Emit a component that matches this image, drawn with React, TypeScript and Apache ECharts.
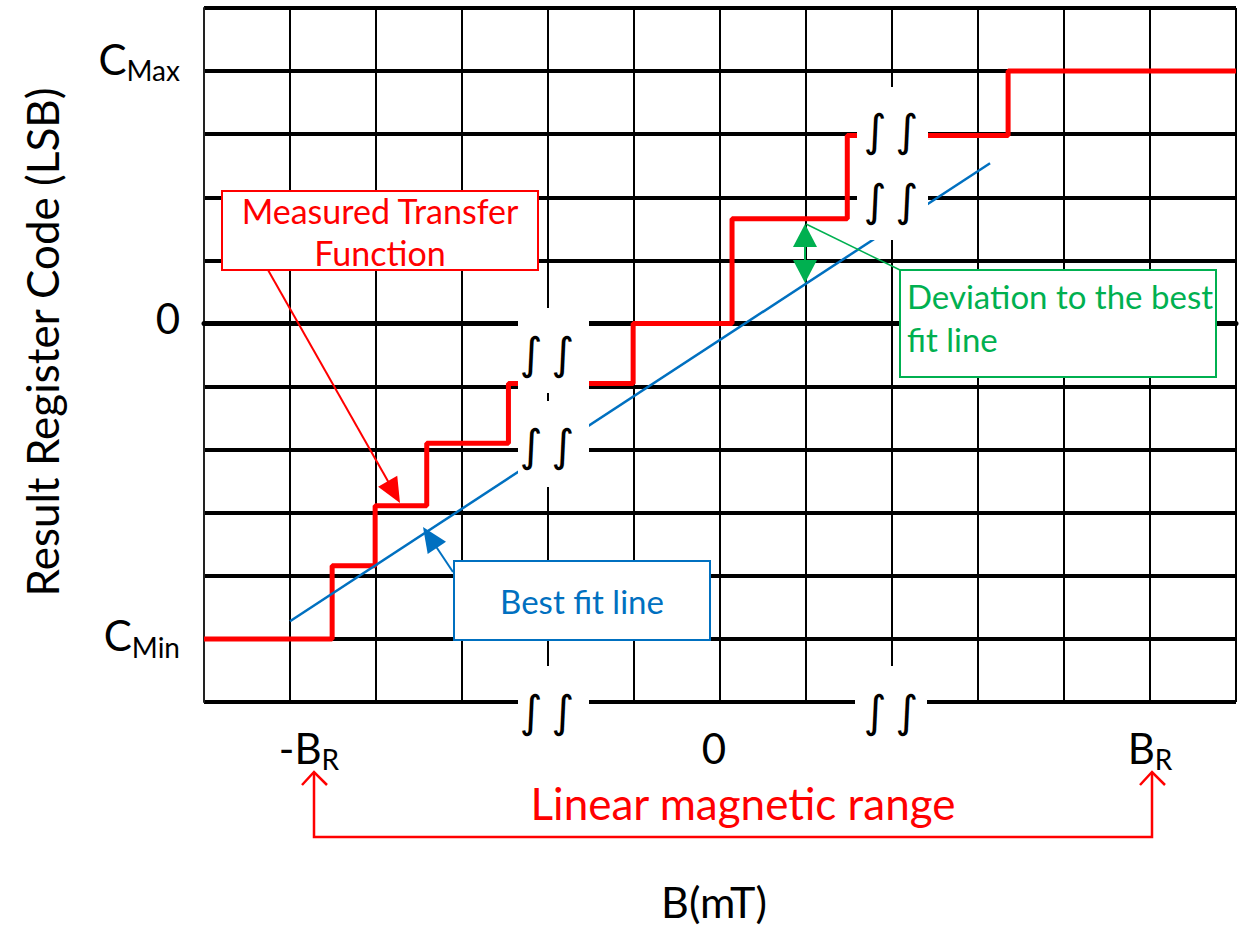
import React, { useEffect, useRef } from 'react';
import * as echarts from 'echarts';

// ---- data ----
const stepBreaksX = [0, 1.49, 1.99, 2.59, 3.54, 4.99, 6.14, 7.48, 9.35, 12];
const stepLevels = [-5, -3.84, -2.89, -1.9, -0.95, 0, 1.66, 2.98, 4.0];
const bestFitX = [1.0, 9.14];
const bestFitY = [-4.72, 2.54];
const xTickValues = [1, 6, 11];
const xTickMain = ['-B', '0', 'B'];
const xTickSub = ['R', '', 'R'];
const yTickValues = [-5, 0, 4];
const yTickMain = ['C', '0', 'C'];
const yTickSub = ['Min', '', 'Max'];

const FONT = 'Lato';
const RED = '#FF0000';
const BLUE = '#0070C0';
const GREEN = '#00B050';

function arrowHead(tip: number[], from: number[], len: number, half: number) {
  const dx = tip[0] - from[0];
  const dy = tip[1] - from[1];
  const L = Math.sqrt(dx * dx + dy * dy);
  const ux = dx / L, uy = dy / L;
  const bx = tip[0] - ux * len, by = tip[1] - uy * len;
  const px = -uy, py = ux;
  return [tip, [bx + px * half, by + py * half], [bx - px * half, by - py * half]];
}

function txt(text: string, x: number, y: number, size: number, color: string, align = 'center', family = FONT, z = 60) {
  return {
    type: 'text', x, y, z, silent: true,
    style: { text, font: `${size}px ${family}`, fill: color, align, verticalAlign: 'middle', textAlign: align, textVerticalAlign: 'middle' },
  };
}

function patch(x: number, y: number, w: number, h: number) {
  return { type: 'rect', z: 50, silent: true, shape: { x, y, width: w, height: h }, style: { fill: '#fff' } };
}

const mainTok = (pad: number[]) => ({ fontFamily: FONT, fontSize: 42, color: '#000', verticalAlign: 'middle', padding: pad });
const subTok = (pad: number[]) => ({ fontFamily: FONT, fontSize: 28, color: '#000', verticalAlign: 'middle', padding: pad });

export default function App() {
  const ref = useRef<HTMLDivElement>(null);
  useEffect(() => {
    if (!ref.current) return;
    const chart = echarts.init(ref.current, undefined, { renderer: 'svg' });
    const stepData: number[][] = stepLevels.map((lv, i) => [stepBreaksX[i], lv]);
    stepData.push([stepBreaksX[stepBreaksX.length - 1], stepLevels[stepLevels.length - 1]]);
    const fitData = bestFitX.map((x, i) => [x, bestFitY[i]]);

    const redArrowFrom = [268, 270], redArrowTip = [400, 503];
    const blueArrowFrom = [453, 572], blueArrowTip = [423, 527];
    const brk = (x: number, y: number) => txt('∫\u2009∫', x, y, 44, '#000', 'center', 'DejaVu Sans');

    const graphic: any[] = [
      patch(518, 308, 71, 85),
      patch(518, 401, 71, 86),
      patch(518, 666, 71, 50),
      patch(857, 87, 71, 153),
      patch(855, 666, 72, 50),
      brk(547, 353),
      brk(547, 445),
      brk(547, 711),
      brk(891, 130),
      brk(891, 200),
      brk(891, 711),
      // boxes
      { type: 'rect', z: 50, silent: true, shape: { x: 222, y: 191, width: 316, height: 79 }, style: { fill: '#fff', stroke: RED, lineWidth: 2 } },
      { type: 'rect', z: 50, silent: true, shape: { x: 900, y: 270, width: 316, height: 107 }, style: { fill: '#fff', stroke: GREEN, lineWidth: 2 } },
      { type: 'rect', z: 50, silent: true, shape: { x: 454, y: 561, width: 256, height: 79 }, style: { fill: '#fff', stroke: BLUE, lineWidth: 2 } },
      txt('Measured Transfer', 380, 210, 34, RED),
      txt('Function', 380, 252, 34, RED),
      txt('Deviation to the best', 907, 296, 33, GREEN, 'left'),
      txt('fit line', 907, 339, 33, GREEN, 'left'),
      txt('Best fit line', 582, 601, 33, BLUE),
      // red arrow
      { type: 'line', z: 55, silent: true, shape: { x1: redArrowFrom[0], y1: redArrowFrom[1], x2: 389, y2: 483 }, style: { stroke: RED, lineWidth: 2 } },
      { type: 'polygon', z: 55, silent: true, shape: { points: arrowHead(redArrowTip, redArrowFrom, 25, 11) }, style: { fill: RED } },
      // blue arrow
      { type: 'line', z: 55, silent: true, shape: { x1: blueArrowFrom[0], y1: blueArrowFrom[1], x2: 431, y2: 539 }, style: { stroke: BLUE, lineWidth: 2 } },
      { type: 'polygon', z: 55, silent: true, shape: { points: arrowHead(blueArrowTip, blueArrowFrom, 25, 11) }, style: { fill: BLUE } },
      // green deviation arrow
      { type: 'line', z: 55, silent: true, shape: { x1: 806, y1: 224, x2: 900, y2: 270 }, style: { stroke: GREEN, lineWidth: 1.5 } },
      { type: 'line', z: 55, silent: true, shape: { x1: 805, y1: 245, x2: 805, y2: 262 }, style: { stroke: GREEN, lineWidth: 2 } },
      { type: 'polygon', z: 55, silent: true, shape: { points: [[805, 224], [793, 247], [817, 247]] }, style: { fill: GREEN } },
      { type: 'polygon', z: 55, silent: true, shape: { points: [[805, 283], [793, 260], [817, 260]] }, style: { fill: GREEN } },
      // linear range bracket
      { type: 'polyline', z: 55, silent: true, shape: { points: [[314, 773], [314, 837], [1152, 837], [1152, 773]] }, style: { stroke: RED, lineWidth: 2.5, fill: null } },
      { type: 'polyline', z: 55, silent: true, shape: { points: [[302, 785], [314, 772], [327, 785]] }, style: { stroke: RED, lineWidth: 2.5, fill: null } },
      { type: 'polyline', z: 55, silent: true, shape: { points: [[1140, 785], [1152, 772], [1165, 785]] }, style: { stroke: RED, lineWidth: 2.5, fill: null } },
      txt('Linear magnetic range', 743, 803, 44, RED),
    ];

    const option: any = {
      animation: false,
      backgroundColor: '#fff',
      grid: { left: 204, top: 8, right: 15, bottom: 228, containLabel: false, outerBoundsMode: 'none' },
      xAxis: {
        type: 'value', min: 0, max: 12, interval: 1,
        name: 'B(mT)', nameLocation: 'middle', nameGap: 178,
        nameTextStyle: { fontFamily: FONT, fontSize: 43, color: '#000', padding: [0, 12, 0, 0] },
        axisLine: { show: true, lineStyle: { color: '#000', width: 5 } },
        axisTick: { show: false },
        splitLine: { show: true, lineStyle: { color: '#000', width: 2 } },
        axisLabel: {
          interval: 0, margin: 26, color: '#000',
          formatter: (v: number) => {
            const i = xTickValues.indexOf(v);
            if (i < 0) return '';
            return xTickSub[i] ? `{m${i}|${xTickMain[i]}}{s${i}|${xTickSub[i]}}` : `{m${i}|${xTickMain[i]}}`;
          },
          rich: {
            m0: { ...mainTok([0, 0, 0, 38]), lineHeight: 40 },
            s0: { ...subTok([22, 0, 0, 0]), lineHeight: 40 },
            m1: { ...mainTok([0, 12, 0, 0]), lineHeight: 40 },
            m2: { ...mainTok([0, 0, 0, 0]), lineHeight: 40 },
            s2: { ...subTok([22, 0, 0, 0]), lineHeight: 40 },
          },
        },
      },
      yAxis: {
        type: 'value', min: -6, max: 5, interval: 1,
        name: 'Result Register Code (LSB)', nameLocation: 'middle', nameRotate: 90, nameGap: 140,
        nameTextStyle: { fontFamily: FONT, fontSize: 44, color: '#000', padding: [0, 0, 0, 26] },
        axisLine: { show: true, lineStyle: { color: '#222', width: 2 } },
        axisTick: { show: false },
        splitLine: { show: true, lineStyle: { color: '#000', width: 4 } },
        axisLabel: {
          margin: 24, color: '#000',
          formatter: (v: number) => {
            const i = yTickValues.indexOf(v);
            if (i < 0) return '';
            return yTickSub[i] ? `{m${i}|${yTickMain[i]}}{s${i}|${yTickSub[i]}}` : `{m${i}|${yTickMain[i]}}`;
          },
          rich: {
            m0: mainTok([0, 0, 8, 0]),
            s0: subTok([16, 0, 0, 0]),
            m1: mainTok([0, 0, 10, 0]),
            m2: mainTok([0, 0, 24, 0]),
            s2: subTok([0, 0, 2, 0]),
          },
        },
      },
      series: [
        {
          type: 'line', name: 'Measured Transfer Function', step: 'end', data: stepData,
          symbol: 'none', lineStyle: { color: RED, width: 5 }, z: 3,
        },
        {
          type: 'line', name: 'Best fit line', data: fitData,
          symbol: 'none', lineStyle: { color: BLUE, width: 2.5 }, z: 3,
        },
      ],
      graphic,
    };
    chart.setOption(option);
    return () => chart.dispose();
  }, []);
  return <div ref={ref} style={{ position: 'fixed', left: 0, top: 0, width: 1251, height: 930, background: '#fff' }} />;
}
